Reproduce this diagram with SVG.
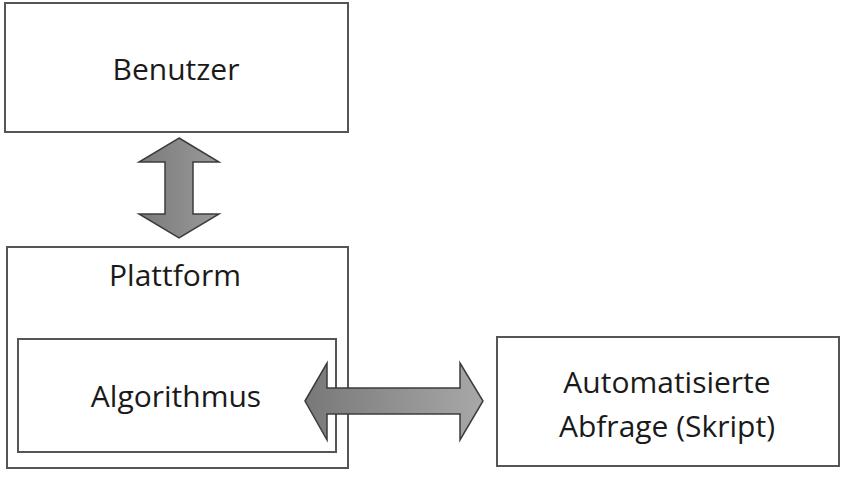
<svg xmlns="http://www.w3.org/2000/svg" width="848" height="481" viewBox="0 0 848 481">
<defs>
<linearGradient id="gv" x1="0" y1="0" x2="1" y2="0">
<stop offset="0" stop-color="#7a7a7a"/><stop offset="1" stop-color="#9a9a9a"/>
</linearGradient>
<linearGradient id="gh" x1="0" y1="0" x2="1" y2="0">
<stop offset="0" stop-color="#787878"/><stop offset="1" stop-color="#a8a8a8"/>
</linearGradient>
<style>
.box{fill:#fff;stroke:#555;stroke-width:2}
.lbl{font-family:"Open Sans","Noto Sans",sans-serif;font-size:30px;fill:#1a1a1a;text-anchor:middle}
.arr{stroke:#3c3c3c;stroke-width:1.5;stroke-linejoin:miter}
</style>
</defs>
<rect width="848" height="481" fill="#fff"/>
<g id="benutzer">
<rect class="box" x="5" y="3" width="343" height="129"/>
<text class="lbl" x="176" y="80">Benutzer</text>
</g>
<g id="plattform">
<rect class="box" x="7" y="247" width="341" height="221"/>
<text class="lbl" x="175" y="286">Plattform</text>
</g>
<g id="algorithmus">
<rect class="box" x="18" y="339" width="318" height="113"/>
<text class="lbl" x="176" y="407">Algorithmus</text>
</g>
<g id="skript">
<rect class="box" x="497" y="337" width="342" height="129"/>
<text class="lbl" x="667" y="393">Automatisierte</text>
<text class="lbl" x="667" y="437">Abfrage (Skript)</text>
</g>
<g id="connectors">
<polygon class="arr" fill="url(#gv)" points="179,138 219,162 193,162 193,214 219,214 179,238 139,214 165,214 165,162 139,162"/>
<polygon class="arr" fill="url(#gh)" points="305,401 327,363 327,388 460,388 460,363 483,401 460,440 460,414 327,414 327,440"/>
</g>
</svg>
